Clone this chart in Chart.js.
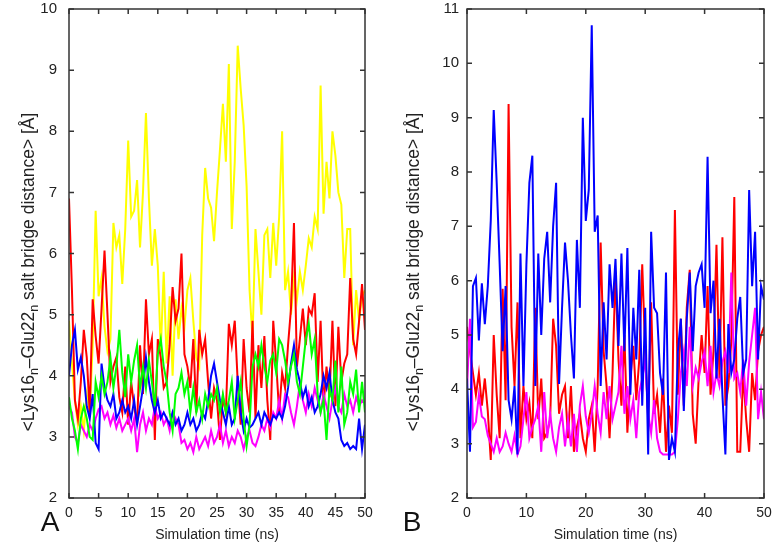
<!DOCTYPE html>
<html>
<head>
<meta charset="utf-8">
<script src="https://cdn.jsdelivr.net/npm/chart.js@4.4.1/dist/chart.umd.min.js"></script>
<style>
  html, body { margin: 0; padding: 0; background: #fff; }
  .panel { position: absolute; top: 0; width: 389px; height: 550px; }
  #panelA { left: 0; }
  #panelB { left: 389px; }
</style>
</head>
<body>
<div class="panel" id="panelA"><canvas id="chartA"></canvas></div>
<div class="panel" id="panelB"><canvas id="chartB"></canvas></div>
<script>
// simulation time (ns), sampled every 0.5 ns
const timeNs = [
  0, 0.5, 1, 1.5, 2, 2.5, 3, 3.5, 4, 4.5,
  5, 5.5, 6, 6.5, 7, 7.5, 8, 8.5, 9, 9.5,
  10, 10.5, 11, 11.5, 12, 12.5, 13, 13.5, 14, 14.5,
  15, 15.5, 16, 16.5, 17, 17.5, 18, 18.5, 19, 19.5,
  20, 20.5, 21, 21.5, 22, 22.5, 23, 23.5, 24, 24.5,
  25, 25.5, 26, 26.5, 27, 27.5, 28, 28.5, 29, 29.5,
  30, 30.5, 31, 31.5, 32, 32.5, 33, 33.5, 34, 34.5,
  35, 35.5, 36, 36.5, 37, 37.5, 38, 38.5, 39, 39.5,
  40, 40.5, 41, 41.5, 42, 42.5, 43, 43.5, 44, 44.5,
  45, 45.5, 46, 46.5, 47, 47.5, 48, 48.5, 49, 49.5,
  50
];

// panel A: salt bridge distance (Å)
const yellowA = [
  4.9, 4.2, 3.6, 3.2, 3.5, 3.1, 3.7, 3.4, 4.5, 6.7,
  5.3, 5.6, 4.8, 4.4, 4.6, 6.5, 6.1, 6.3, 5.5, 6.4,
  7.85, 6.6, 6.7, 7.2, 6.1, 7.0, 8.3, 6.9, 5.8, 6.4,
  5.8, 4.4, 5.7, 4.2, 5.3, 4.0, 5.25, 4.6, 5.1, 4.8,
  5.4, 5.6, 4.9, 4.3, 4.15, 6.3, 7.4, 6.9, 6.75, 6.2,
  7.0, 7.7, 8.45, 7.5, 9.1, 6.4, 7.5, 9.4, 8.7, 8.1,
  7.1, 5.4, 4.6, 6.4, 5.7, 5.0, 6.3, 6.4, 5.6, 6.5,
  5.8, 6.6, 8.0, 5.4, 5.7, 5.0, 5.6, 5.25, 5.7, 5.4,
  5.8, 6.25, 6.1, 6.6, 6.4, 8.75, 6.65, 7.5, 6.9, 8.0,
  7.6, 7.0, 6.8, 5.6, 6.4, 6.4, 4.5, 5.4, 4.9, 5.3,
  5.4
];
const redA = [
  6.9, 5.4, 3.6, 3.3, 3.9, 4.75, 4.3, 3.4, 5.25, 4.65,
  4.2, 5.1, 6.05, 5.0, 3.9, 4.15, 4.3, 3.65, 3.4, 4.15,
  3.2, 3.9, 3.5, 3.2, 4.5, 3.7, 5.25, 4.35, 4.6, 2.95,
  4.6, 4.3, 3.8, 3.9, 4.5, 5.45, 4.9, 5.1, 6.0, 4.35,
  4.15, 3.8, 4.6, 3.4, 4.75, 4.35, 4.6, 3.9, 3.3, 3.8,
  3.6, 2.95, 3.65, 3.4, 4.85, 4.5, 4.9, 3.9, 3.2, 4.6,
  3.8, 3.4, 4.9, 3.3, 4.5, 3.8, 4.65, 3.6, 2.95, 4.9,
  4.2, 3.4, 4.05, 3.8, 4.5, 5.1, 6.5, 4.15, 4.6, 5.1,
  4.5, 5.1, 5.0, 5.35, 3.9, 4.9, 3.5, 4.15, 3.65, 4.9,
  3.5, 4.8, 3.9, 4.2, 4.35, 5.6, 4.6, 4.35, 4.9, 5.5,
  4.75
];
const greenA = [
  3.65, 3.3, 3.1, 2.8, 3.3, 3.5, 3.3, 3.0, 2.95, 3.9,
  3.65, 4.0, 3.7, 3.9, 4.3, 3.8, 4.15, 4.75, 4.05, 3.65,
  4.35, 3.9, 4.25, 4.5, 3.8, 4.15, 3.8, 4.25, 3.9, 3.5,
  4.35, 4.6, 4.15, 3.9, 3.4, 3.1, 3.7, 3.8, 4.05, 3.7,
  3.9, 3.4, 3.8, 3.4, 3.6, 3.3, 3.7, 3.5, 3.7, 3.6,
  3.8, 3.4, 3.7, 3.4, 3.6, 3.9, 3.3, 3.6, 3.9, 3.3,
  2.85, 3.2, 4.15, 4.35, 4.15, 4.5, 4.15, 3.9, 4.25, 4.35,
  4.05, 4.6, 4.5, 4.25, 3.9, 4.15, 4.35, 3.9, 3.7, 4.15,
  4.6, 4.85, 4.35, 4.6, 3.7, 3.4, 3.6, 2.95, 3.8, 3.6,
  4.25, 3.4, 4.15, 3.2, 3.4, 3.9, 3.7, 4.1, 3.4, 3.9,
  3.4
];
const blueA = [
  4.0, 4.5, 4.75, 4.1, 4.3, 4.0, 3.5, 3.3, 3.7, 2.9,
  2.8, 4.2, 3.8, 3.6, 3.5, 3.7, 3.3, 3.4, 3.6, 3.4,
  3.5, 3.3, 3.6, 3.2, 3.5, 3.8, 4.3, 3.9, 3.6, 3.4,
  3.6, 3.3, 3.4, 3.3, 3.2, 3.4, 3.2, 3.3, 3.1, 3.2,
  3.4, 3.2, 3.3, 3.1, 3.2, 3.4, 3.3, 3.6, 4.0, 4.2,
  3.9, 3.6, 3.4, 3.2, 3.5, 3.2, 3.3, 4.0, 3.4, 3.1,
  3.3, 3.15, 3.2, 3.3, 3.4, 3.2, 3.4, 3.3, 3.2, 3.35,
  3.3, 3.4, 3.3, 3.5, 3.8, 4.2, 4.5, 4.1, 3.9, 3.65,
  3.8, 3.5, 3.65, 3.4, 3.5, 3.7, 4.0, 3.8, 4.05, 3.6,
  3.4, 3.3, 2.95, 2.85, 2.9, 2.8, 2.85, 2.8, 3.3, 2.8,
  3.2
];
const magentaA = [
  3.5, 3.4, 3.0, 2.9, 3.2, 3.1, 3.0, 3.2, 3.1, 3.3,
  3.45, 3.5, 3.3, 3.4, 3.2, 3.35, 3.15, 3.3, 3.1, 3.2,
  3.3, 3.1, 3.3, 2.75, 3.2, 3.4, 3.1, 3.3, 3.2, 3.5,
  3.3, 3.4, 3.2, 3.3, 3.1, 3.4, 3.3, 3.2, 2.9, 2.95,
  2.8, 2.9, 2.75, 3.0, 2.8, 2.9, 3.0, 2.85, 3.1, 2.9,
  3.0, 3.2, 2.9, 3.1, 2.85, 3.0, 2.9, 3.1, 3.0, 2.8,
  3.0, 3.1, 2.9, 2.85, 3.0, 3.2, 3.1, 3.3, 3.15, 3.4,
  3.3, 3.6, 3.3, 3.7, 3.65, 3.4, 3.2, 3.5, 3.88, 3.6,
  3.4, 3.7, 3.5, 3.8, 3.6, 3.4, 3.7, 3.5, 3.3, 3.6,
  3.8, 3.5, 3.4, 3.7, 3.5, 3.6, 3.4, 3.65, 3.5, 3.6,
  3.55
];

// panel B: salt bridge distance (Å)
const blueB = [
  4.2, 2.85, 5.9, 6.05, 4.9, 5.95, 5.2, 5.9, 7.1, 9.14,
  7.8, 6.3, 4.7, 5.9, 3.8, 3.45, 4.06, 2.8, 6.5, 4.06,
  6.3, 7.8, 8.3, 4.06, 6.5, 5.0, 6.4, 6.9, 5.6, 7.0,
  7.8, 4.1, 5.5, 6.7, 6.0, 5.0, 4.2, 6.75, 5.5, 9.0,
  7.1, 7.67, 10.7, 6.9, 7.2, 4.06, 5.6, 4.55, 6.3, 5.5,
  6.4, 4.8, 6.5, 4.7, 6.6, 3.9, 5.5, 4.55, 6.2, 3.7,
  5.5, 2.8, 6.9, 5.5, 5.4, 4.3, 3.9, 6.15, 2.7, 3.1,
  2.85, 4.7, 5.3, 3.6, 5.3, 6.15, 4.7, 5.9, 6.15, 6.3,
  5.5, 8.28, 5.4, 6.0, 4.2, 5.3, 3.9, 2.8, 5.2, 4.3,
  4.55, 5.3, 5.7, 4.3, 4.55, 7.67, 5.9, 6.9, 4.55, 5.9,
  5.65
];
const redB = [
  5.15, 4.7, 4.3, 3.9, 4.3, 3.7, 4.2, 3.6, 2.7, 5.0,
  3.9, 3.1, 5.85, 3.8, 9.25, 5.15, 4.06, 5.6, 3.1, 4.06,
  3.45, 3.75, 3.1, 5.5, 3.45, 4.2, 3.1, 3.2, 3.45, 5.3,
  4.8, 3.55, 3.9, 4.06, 3.1, 4.06, 2.85, 3.3, 3.55, 3.1,
  2.85, 3.45, 3.7, 2.85, 4.06, 6.7, 4.7, 4.06, 3.1, 4.3,
  6.15, 4.55, 3.7, 5.0, 3.2, 4.2, 4.8, 3.8, 4.55, 6.3,
  4.7, 3.45, 5.6, 3.55, 3.9, 3.2, 4.2, 2.85, 3.7, 3.2,
  7.3, 3.9, 5.3, 3.7, 5.5, 6.2, 3.55, 3.0, 4.2, 5.0,
  4.3, 5.9, 3.9, 4.7, 6.66, 4.2, 6.8, 3.7, 4.06, 4.9,
  7.54, 2.85, 2.85, 4.3, 3.45, 2.85, 4.3, 3.8, 4.7, 5.0,
  5.15
];
const magentaB = [
  4.0, 5.3, 3.3, 3.4, 3.9, 3.5, 3.45, 3.15, 3.0, 2.85,
  3.1, 2.85, 2.95, 3.2, 3.0, 2.85, 3.15, 2.8, 2.95, 3.45,
  3.95, 3.1, 3.3, 3.45, 3.7, 2.85, 3.95, 3.1, 3.55, 3.1,
  2.85, 3.3, 3.55, 2.95, 3.45, 2.95, 3.55, 2.85, 3.7, 4.06,
  3.5, 3.2, 3.55, 4.06, 3.55, 3.2, 3.95, 3.45, 4.06, 3.45,
  3.7, 3.95, 4.8, 3.55, 4.06, 3.45, 3.8, 3.1, 3.95, 4.2,
  4.55, 3.55, 3.2, 3.8, 3.1, 2.85, 2.8, 2.8, 2.8, 2.8,
  2.85, 3.45, 4.3, 4.7, 4.06, 5.15, 4.06, 4.4, 4.2, 4.5,
  4.7, 4.06, 4.8, 3.95, 4.3, 4.06, 4.5, 4.7, 4.3, 6.15,
  4.2, 4.3, 3.95, 4.55, 3.7, 4.5, 5.0, 5.5, 3.45, 3.95,
  3.45
];

const yTickFont = { family: 'Liberation Sans, Arial, sans-serif', size: 15 };
const xTickFont = { family: 'Liberation Sans, Arial, sans-serif', size: 14 };
const yTitleParts = [
  { text: '<Lys16' }, { text: 'n', sub: true }, { text: '\u2013Glu22' },
  { text: 'n', sub: true }, { text: ' salt bridge distance> [\u00C5]' }
];

function toPoints(values) {
  return timeNs.map((t, i) => ({ x: t, y: values[i] }));
}

function series(values, color) {
  return {
    data: toPoints(values),
    borderColor: color,
    borderWidth: 2,
    pointRadius: 0,
    tension: 0,
    fill: false
  };
}

// frame, inward ticks on all sides, y title with subscripts, panel letter
const decorations = {
  id: 'decorations',
  afterDraw(chart, args, opts) {
    const { ctx, chartArea: a, scales: { x, y } } = chart;
    ctx.save();
    ctx.strokeStyle = '#333';
    ctx.lineWidth = 1.5;
    ctx.strokeRect(a.left, a.top, a.right - a.left, a.bottom - a.top);
    const len = 5;
    ctx.beginPath();
    x.ticks.forEach(t => {
      const px = x.getPixelForValue(t.value);
      ctx.moveTo(px, a.bottom); ctx.lineTo(px, a.bottom - len);
      ctx.moveTo(px, a.top); ctx.lineTo(px, a.top + len);
    });
    y.ticks.forEach(t => {
      const py = y.getPixelForValue(t.value);
      ctx.moveTo(a.left, py); ctx.lineTo(a.left + len, py);
      ctx.moveTo(a.right, py); ctx.lineTo(a.right - len, py);
    });
    ctx.stroke();

    // rotated y title
    const big = '17.5px Liberation Sans, Arial, sans-serif';
    const small = '12.5px Liberation Sans, Arial, sans-serif';
    let total = 0;
    yTitleParts.forEach(p => {
      ctx.font = p.sub ? small : big;
      total += ctx.measureText(p.text).width;
    });
    ctx.translate(opts.titleX, 272);
    ctx.rotate(-Math.PI / 2);
    ctx.fillStyle = '#222';
    ctx.textBaseline = 'middle';
    let cx = -total / 2;
    yTitleParts.forEach(p => {
      ctx.font = p.sub ? small : big;
      ctx.fillText(p.text, cx, p.sub ? 6 : 0);
      cx += ctx.measureText(p.text).width;
    });
    ctx.setTransform(1, 0, 0, 1, 0, 0);

    ctx.font = '28px Liberation Sans, Arial, sans-serif';
    ctx.fillStyle = '#111';
    ctx.textAlign = 'center';
    ctx.textBaseline = 'middle';
    ctx.fillText(opts.letter, opts.letterX, 523);
    ctx.restore();
  }
};

function makeChart(id, datasets, yMax, xStep, yAxisWidth, padRight, letter, letterX, tickPad, titleX) {
  return new Chart(document.getElementById(id), {
    type: 'line',
    data: { datasets },
    options: {
      responsive: true,
      maintainAspectRatio: false,
      animation: false,
      layout: { padding: { top: 0, right: padRight, bottom: 0, left: 0 } },
      plugins: {
        legend: { display: false },
        tooltip: { enabled: false },
        decorations: { titleX, letter, letterX }
      },
      scales: {
        x: {
          type: 'linear', min: 0, max: 50,
          grid: { display: false, drawTicks: false },
          border: { display: false },
          ticks: { stepSize: xStep, font: xTickFont, color: '#222', padding: 7, maxRotation: 0 },
          title: {
            display: true, text: 'Simulation time (ns)', color: '#222',
            font: xTickFont, padding: { top: 0, bottom: 6 }
          },
          afterFit(scale) {
            scale.height = 52;
            scale.paddingLeft = 0;
            scale.paddingRight = 0;
          }
        },
        y: {
          min: 2, max: yMax,
          grid: { display: false, drawTicks: false },
          border: { display: false },
          ticks: { stepSize: 1, font: yTickFont, color: '#222', padding: tickPad },
          afterFit(scale) {
            scale.width = yAxisWidth;
            scale.paddingTop = 9;
            scale.paddingBottom = 0;
          }
        }
      }
    },
    plugins: [decorations]
  });
}

makeChart('chartA', [
  series(greenA, '#00ff00'),
  series(blueA, '#0000ff'),
  series(magentaA, '#ff00ff'),
  series(redA, '#ff0000'),
  series(yellowA, '#ffff00')
], 10, 5, 69, 24, 'A', 50, 12, 29);

makeChart('chartB', [
  series(blueB, '#0000ff'),
  series(magentaB, '#ff00ff'),
  series(redB, '#ff0000')
], 11, 10, 78, 14, 'B', 23, 8, 25);
</script>
</body>
</html>
